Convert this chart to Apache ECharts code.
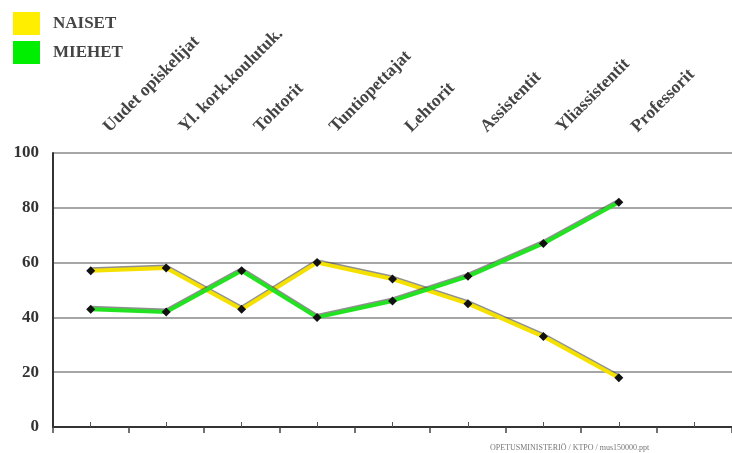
<!DOCTYPE html>
<html>
<head>
<meta charset="utf-8">
<script src="https://cdn.jsdelivr.net/npm/echarts@6/dist/echarts.min.js"></script>
<style>html,body{margin:0;padding:0;background:#fff;}#c{width:732px;height:453px;}</style>
</head>
<body>
<div id="c"></div>
<script>
var categories = ['Uudet opiskelijat', 'Yl. kork.koulutuk.', 'Tohtorit', 'Tuntiopettajat', 'Lehtorit', 'Assistentit', 'Yliassistentit', 'Professorit'];
var naiset = [57, 58, 43, 60, 54, 45, 33, 18];
var miehet = [43, 42, 57, 40, 46, 55, 67, 82];
var yTicks = [0, 20, 40, 60, 80, 100];
var footer = 'OPETUSMINISTERIÖ / KTPO / mus150000.ppt';

var axisCats = categories.concat(['']);
var serif = '"Liberation Serif", "DejaVu Serif", serif';
var chart = echarts.init(document.getElementById('c'));
function lineSeries(name, data, color) {
  return {
    name: name, type: 'line', data: data, xAxisIndex: 0, yAxisIndex: 0,
    symbol: 'diamond', symbolSize: 9,
    itemStyle: { color: '#111' },
    lineStyle: { color: color, width: 4, shadowColor: 'rgba(70,70,70,0.6)', shadowBlur: 0, shadowOffsetX: 0, shadowOffsetY: -1.5 },
    z: 5
  };
}
chart.setOption({
  animation: false,
  backgroundColor: '#fff',
  legend: {
    left: 13, top: 12, orient: 'vertical', itemWidth: 27, itemHeight: 23, itemGap: 6, padding: 0,
    icon: 'rect', selectedMode: false,
    textStyle: { fontFamily: serif, fontWeight: 'bold', fontSize: 17, color: '#444', padding: [0, 0, 0, 8] },
    data: [
      { name: 'NAISET', itemStyle: { color: '#ffee00', borderWidth: 0 } },
      { name: 'MIEHET', itemStyle: { color: '#00ee00', borderWidth: 0 } }
    ]
  },
  grid: { left: 53, right: -6, top: 153, bottom: 26 },
  xAxis: [
    {
      type: 'category', data: axisCats, position: 'top', boundaryGap: true,
      axisLine: { show: true, lineStyle: { color: '#333', width: 2 } },
      axisTick: { show: false },
      axisLabel: { interval: 0, rotate: 45, margin: 8, padding: [0, 0, 0, 22],
        fontFamily: serif, fontWeight: 'bold', fontSize: 17.5, color: '#444' }
    },
    {
      type: 'category', data: axisCats, position: 'bottom', boundaryGap: true,
      axisLine: { show: true, lineStyle: { color: '#333', width: 2 } },
      axisTick: { show: true, interval: 0, length: 6, lineStyle: { color: '#444', width: 1.5 } },
      axisLabel: { show: false }
    },
    {
      type: 'category', data: axisCats, position: 'bottom', boundaryGap: true,
      axisLine: { show: false },
      axisTick: { show: true, interval: 0, alignWithLabel: true, inside: true, length: 5, lineStyle: { color: '#555', width: 1 } },
      axisLabel: { show: false }
    }
  ],
  yAxis: {
    type: 'value', min: yTicks[0], max: yTicks[yTicks.length - 1], interval: 20,
    axisLine: { show: true, lineStyle: { color: '#333', width: 2 } },
    axisTick: { show: false },
    splitLine: { lineStyle: { color: '#888', width: 1.5 } },
    axisLabel: { margin: 14, fontFamily: serif, fontWeight: 'bold', fontSize: 17, color: '#333' }
  },
  series: [
    lineSeries('NAISET', naiset, '#f5e100'),
    lineSeries('MIEHET', miehet, '#22e222')
  ],
  graphic: [{
    type: 'text', left: 490, top: 444,
    style: { text: footer, fontFamily: serif, fontSize: 8, fill: '#777' }
  }]
});
</script>
</body>
</html>
